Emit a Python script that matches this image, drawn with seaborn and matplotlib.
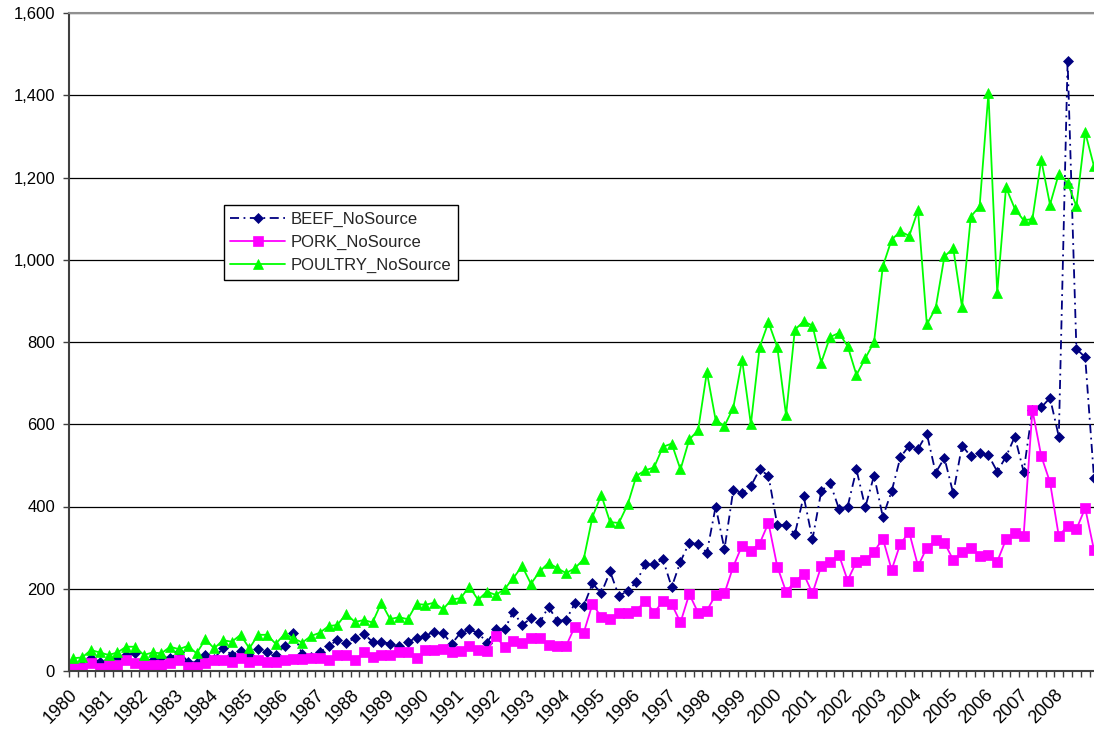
import matplotlib
matplotlib.use("Agg")
import seaborn as sns
import matplotlib.pyplot as plt
import matplotlib.transforms as mtransforms
import pandas as pd
from matplotlib.ticker import FixedLocator, FuncFormatter

# quarterly values, 1980 Q1 .. 2009 Q1
beef = [
    15, 15, 31, 23, 27, 31, 39, 43, 27, 27, 35, 31, 47, 23, 20, 39,
    30, 56, 39, 49, 39, 53, 45, 39,
    61, 93, 41, 35, 45, 61, 75, 69, 80, 90, 71, 71, 66, 61, 71, 80,
    85, 96, 92, 66, 93, 101, 93, 69, 101, 101, 144, 112, 128, 118, 156,
    122,
    124, 165, 158, 213, 189, 242, 182, 195, 217, 260, 260, 272, 204, 266,
    312, 308, 288, 400, 296, 440, 432, 450, 490, 475, 355, 355, 333, 425,
    320, 437, 458, 395, 400, 490, 398, 475, 375, 437, 520, 548, 540, 577,
    482, 518, 432, 548, 522, 530, 525, 485, 521, 570, 485, 635, 641, 664,
    570, 1483, 783, 763, 469,
]
pork = [
    7, 7, 19, 7, 15, 15, 27, 19, 15, 15, 15, 19, 27, 10, 10, 19,
    27, 27, 23, 31, 23, 27, 22, 23,
    27, 28, 28, 31, 31, 27, 39, 39, 27, 45, 35, 39, 39, 45, 45, 31,
    51, 51, 53, 45, 49, 61, 51, 49, 85, 58, 74, 67, 80, 80, 63,
    62,
    61, 108, 93, 163, 131, 126, 142, 142, 147, 171, 142, 169, 163, 118,
    187, 142, 147, 185, 189, 254, 305, 293, 310, 360, 254, 193, 217, 236,
    189, 255, 266, 283, 220, 266, 270, 290, 322, 246, 310, 337, 255, 300,
    318, 312, 270, 290, 300, 280, 282, 266, 320, 335, 328, 635, 523, 459,
    328, 353, 345, 396, 294,
]
poultry = [
    31, 33, 51, 45, 39, 45, 59, 59, 39, 45, 43, 59, 53, 61, 43, 77,
    55, 75, 71, 88, 55, 88, 88, 66,
    90, 80, 69, 85, 93, 109, 112, 139, 119, 124, 118, 166, 126, 131, 126, 163,
    161, 166, 150, 174, 177, 205, 173, 193, 185, 199, 226, 255, 212, 242, 263,
    250,
    238, 250, 272, 375, 428, 362, 360, 405, 475, 488, 495, 545, 553, 490,
    563, 585, 727, 610, 596, 640, 757, 600, 788, 848, 788, 622, 830, 850,
    840, 750, 812, 822, 790, 720, 760, 800, 984, 1049, 1069, 1058, 1120, 843,
    882, 1008, 1028, 885, 1105, 1130, 1405, 920, 1176, 1124, 1096, 1099, 1243,
    1134, 1209, 1187, 1130, 1310, 1227,
]
year_labels = [str(y) for y in range(1980, 2009)]

n = len(beef)
assert len(pork) == n and len(poultry) == n
df = pd.DataFrame({
    "quarter": range(n),
    "BEEF_NoSource": beef,
    "PORK_NoSource": pork,
    "POULTRY_NoSource": poultry,
})

sns.set_theme(style="white")
plt.rcParams["font.family"] = ["Liberation Sans", "DejaVu Sans"]

fig = plt.figure(figsize=(10.94, 7.34), dpi=100)
ax = fig.add_axes([69 / 1094, 63 / 734, 1 - 69 / 1094, 658 / 734])

sns.lineplot(data=df, x="quarter", y="BEEF_NoSource", ax=ax, color="#000080",
             marker="D", markersize=5, mec="#000080", mew=0.5, lw=1.3,
             linestyle=(0, (5, 2.5, 1, 2.5)), label="BEEF_NoSource")
sns.lineplot(data=df, x="quarter", y="PORK_NoSource", ax=ax, color="#FF00FF",
             marker="s", markersize=6.5, mec="#FF00FF", mew=0.5, lw=1.3,
             label="PORK_NoSource")
sns.lineplot(data=df, x="quarter", y="POULTRY_NoSource", ax=ax, color="#00FF00",
             marker="^", markersize=7.5, mec="#00FF00", mew=0.5, lw=1.3,
             label="POULTRY_NoSource")

ax.set_xlim(-0.5, 116.0)
ax.set_ylim(0, 1600)
ax.set_xlabel("")
ax.set_ylabel("")

# y axis
ax.set_yticks(range(0, 1601, 200))
ax.yaxis.set_major_formatter(FuncFormatter(lambda v, p: f"{int(v):,}"))
ax.yaxis.grid(True, color="black", lw=0.9)
ax.xaxis.grid(False)
ax.axhline(1600, color="#909090", lw=1.5, clip_on=False, zorder=3)
ax.tick_params(axis="y", which="major", left=True, length=4, width=1,
               color="#404040", direction="out", pad=6, labelsize=12, labelcolor="black")

# x axis: tick at every quarter boundary, label each year
label_pos = list(range(0, 4 * len(year_labels), 4))
ax.xaxis.set_major_locator(FixedLocator(label_pos))
ax.set_xticklabels(year_labels)
ax.xaxis.set_minor_locator(FixedLocator([k - 0.5 for k in range(n + 1)]))
ax.tick_params(axis="x", which="major", bottom=True, length=0, pad=11,
               labelsize=13, labelcolor="black")
ax.tick_params(axis="x", which="minor", bottom=True, length=4, width=1,
               color="#404040", direction="out")
shift = mtransforms.ScaledTranslation(-3 / 72, 0, fig.dpi_scale_trans)
for lbl in ax.get_xticklabels():
    lbl.set_rotation(45)
    lbl.set_ha("right")
    lbl.set_va("top")
    lbl.set_rotation_mode("anchor")
    lbl.set_transform(lbl.get_transform() + shift)

for side in ["top", "right"]:
    ax.spines[side].set_visible(False)
ax.spines["left"].set_color("#404040")
ax.spines["left"].set_linewidth(1.5)
ax.spines["bottom"].set_color("#404040")
ax.spines["bottom"].set_linewidth(1.5)

leg = ax.legend(loc="upper left", bbox_to_anchor=(0.151, 0.708), borderaxespad=0,
                fontsize=12, frameon=True, fancybox=False, framealpha=1,
                edgecolor="black", handlelength=3.3, handletextpad=0.3,
                labelspacing=0.48, borderpad=0.4)
leg.get_frame().set_linewidth(1)

fig.savefig("out.png", dpi=100)
